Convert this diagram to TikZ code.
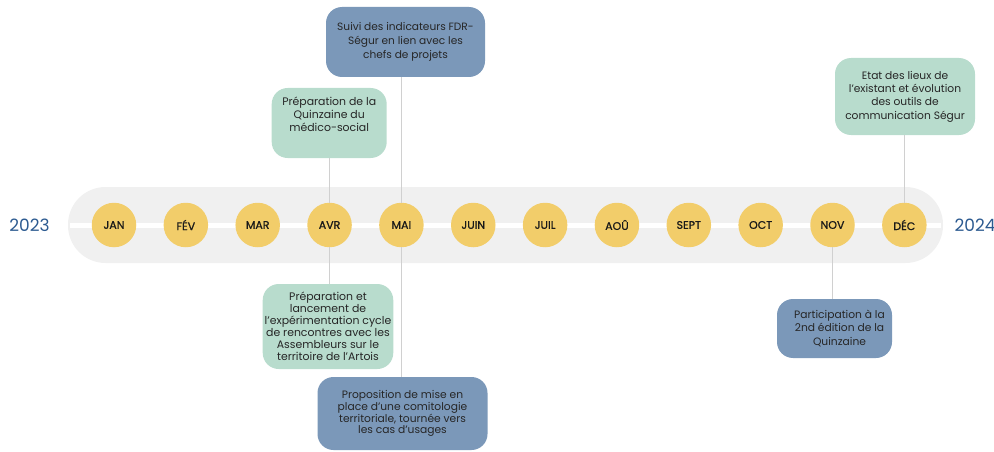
\documentclass[tikz,border=0pt]{standalone}
\usepackage{fontspec}
\setmainfont{Poppins}
\newfontfamily\monthfont{Poppins}[FakeBold=0.9]
\definecolor{bandgray}{HTML}{F0F0F0}
\definecolor{monthyellow}{HTML}{F2CD6A}
\definecolor{boxblue}{HTML}{7B98B9}
\definecolor{boxgreen}{HTML}{B8DCCD}
\definecolor{yearblue}{HTML}{2C5A90}
\definecolor{linegray}{HTML}{D0D0D0}
\begin{document}
\begin{tikzpicture}[x=1pt,y=-1pt,
  month/.style={circle,fill=monthyellow,minimum size=44.5pt,inner sep=0pt,font=\monthfont\fontsize{11}{12}\selectfont,text=black!90},
  evbox/.style={rounded corners=16pt,align=center,inner sep=2pt,text=black!85},
  bluebox/.style={evbox,fill=boxblue},
  greenbox/.style={evbox,fill=boxgreen},
  year/.style={font=\fontsize{17}{18}\selectfont,text=yearblue},
  link/.style={draw=linegray,line width=0.9pt}]
\useasboundingbox (0,0) rectangle (994,452);
\fill[bandgray,rounded corners=37.5pt] (68,187) rectangle (943,263);
\fill[white] (70,222.7) rectangle (941,227.7);
\node[year] (y2023) at (29.5,225) {2023};
\node[year] (y2024) at (975,225) {2024};
\foreach \n/\t [count=\i from 0] in {jan/JAN,fev/FÉV,mar/MAR,avr/AVR,mai/MAI,juin/JUIN,juil/JUIL,aou/AOÛ,sept/SEPT,oct/OCT,nov/NOV,dec/DÉC}
  \node[month] (\n) at ({114+71.85*\i},225) {\t};
% boxes
\node[bluebox,minimum width=159pt,minimum height=70pt,font=\fontsize{10.6}{13.7}\selectfont] (b1) at (405.5,42) {Suivi des indicateurs FDR-\\Ségur en lien avec les\\chefs de projets};
\node[greenbox,minimum width=115pt,minimum height=70pt,font=\fontsize{10.9}{13.3}\selectfont] (b2) at (329.2,123) {Préparation de la\\Quinzaine du\\médico-social\\[4pt]};
\node[greenbox,minimum width=140pt,minimum height=77pt,font=\fontsize{10.7}{13.4}\selectfont] (b3) at (905,96.5) {Etat des lieux de\\l’existant et évolution\\des outils de\\communication Ségur};
\node[greenbox,minimum width=128pt,minimum height=85pt,font=\fontsize{10.9}{12}\selectfont] (b4) at (328,326.5) {Préparation et\\lancement de\\l’expérimentation cycle\\de rencontres avec les\\Assembleurs sur le\\territoire de l’Artois};
\node[bluebox,minimum width=170pt,minimum height=73pt,font=\fontsize{10.7}{11.8}\selectfont] (b5) at (402.5,413.5) {Proposition de mise en\\place d’une comitologie\\territoriale, tournée vers\\les cas d’usages};
\node[bluebox,minimum width=115pt,minimum height=59pt,font=\fontsize{10.7}{13.8}\selectfont] (b6) at (834.5,328.5) {\hspace*{10pt}Participation à la\\\hspace*{10pt}2nd édition de la\\\hspace*{10pt}Quinzaine};
% links
\draw[link] (mai.north) -- (mai.north |- b1.south);
\draw[link] (avr.north) -- (avr.north |- b2.south);
\draw[link] (dec.north) -- (dec.north |- b3.south);
\draw[link] (avr.south) -- (avr.south |- b4.north);
\draw[link] (mai.south) -- (mai.south |- b5.north);
\draw[link] (nov.south) -- (nov.south |- b6.north);
\end{tikzpicture}
\end{document}
